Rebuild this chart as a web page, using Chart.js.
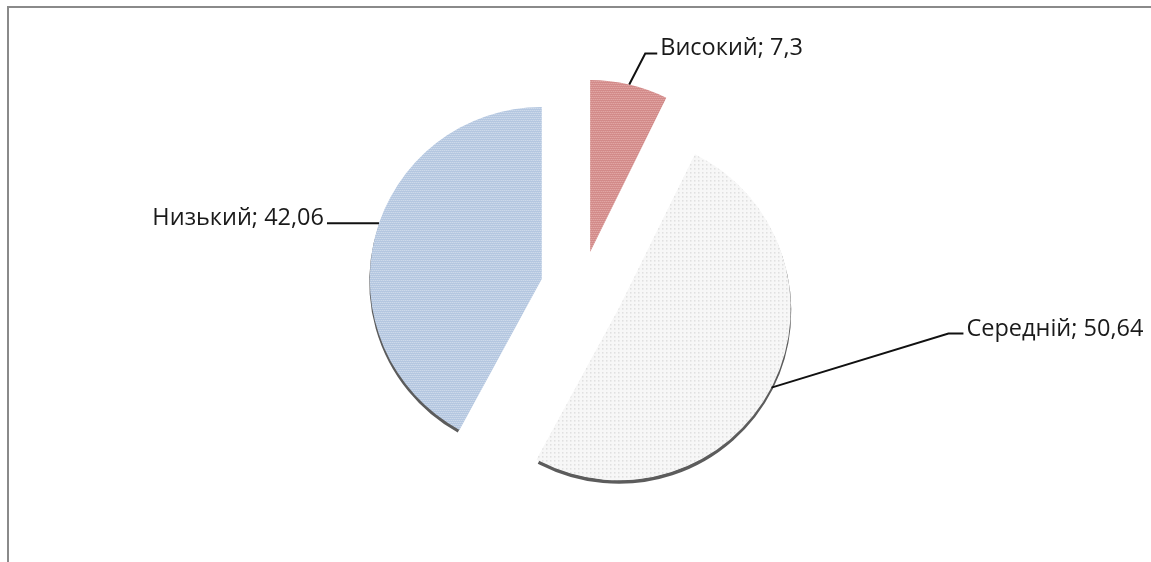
<!DOCTYPE html>
<html lang="uk">
<head>
<meta charset="utf-8">
<title>Рівні</title>
<script src="https://cdn.jsdelivr.net/npm/chart.js@4.4.1/dist/chart.umd.min.js"></script>
<style>
  html, body { margin: 0; padding: 0; background: #fff; }
  #wrap { position: relative; width: 1151px; height: 562px; }
  #frame {
    position: absolute; left: 7px; top: 6px; right: 0; bottom: 0;
    border-top: 2px solid #8a8a8a; border-left: 2px solid #8a8a8a;
    pointer-events: none;
  }
</style>
</head>
<body>
<div id="wrap">
  <canvas id="grafico"></canvas>
  <div id="frame"></div>
</div>
<script>
// dati del grafico
const categorie = ['Високий', 'Середній', 'Низький'];
const valori = [7.3, 50.64, 42.06];

// layout: quanto ogni fetta è staccata dal centro (px) e dove va l'etichetta
const stacco = [38, 42, 41];
const etichette = [
  { frac: 0.5, dx: 16, dy: -31, run: 12, side: 'right' },   // Високий
  { frac: 0.5, dx: 177, dy: -54, run: 15, side: 'right' },  // Середній
  { frac: 0.53, dx: 0, dy: 0, run: 52, side: 'left' }       // Низький
];

// piccoli pattern per imitare i riempimenti di Excel
function pattern(base, tinta, tipo) {
  const c = document.createElement('canvas');
  c.width = 4; c.height = 4;
  const g = c.getContext('2d');
  g.fillStyle = base;
  g.fillRect(0, 0, 4, 4);
  g.fillStyle = tinta;
  if (tipo === 'dots') {
    g.fillRect(1, 1, 1, 1);
  } else {
    for (let i = 0; i < 4; i++) g.fillRect(i, (i * 2) % 4, 1, 1);
  }
  return g.createPattern(c, 'repeat');
}

const colori = [
  pattern('#d28a89', '#e8b2b0', 'hatch'),
  pattern('#f7f7f7', '#c2c2c2', 'dots'),
  pattern('#b3c6e0', '#dce5f1', 'hatch')
];

// le fette vengono solo traslate, senza l'ingrandimento che fa Chart.js con "offset"
// + un bordino scuro sotto l'arco per l'effetto 3D
const drawOriginale = Chart.ArcElement.prototype.draw;
Chart.ArcElement.prototype.draw = function (ctx) {
  const opts = this.options;
  const sposta = opts.offset || 0;
  const meta = (this.startAngle + this.endAngle) / 2;
  ctx.save();
  ctx.translate(Math.cos(meta) * sposta, Math.sin(meta) * sposta);
  ctx.beginPath();
  ctx.arc(this.x, this.y + 3, this.outerRadius - 1.5, this.startAngle + 0.01, this.endAngle - 0.01);
  ctx.lineWidth = 4;
  ctx.strokeStyle = '#5c5c5c';
  ctx.stroke();
  this.options = Object.assign({}, opts, { offset: 0 });
  drawOriginale.call(this, ctx);
  this.options = opts;
  ctx.restore();
};

const pluginEtichette = {
  id: 'etichette',
  afterDatasetsDraw(chart) {
    const { ctx } = chart;
    const arcs = chart.getDatasetMeta(0).data;
    ctx.save();
    ctx.font = '23.5px "Open Sans"';
    ctx.fillStyle = '#1a1a1a';
    ctx.strokeStyle = '#111';
    ctx.lineWidth = 2;
    arcs.forEach((arc, i) => {
      const { x, y, startAngle, endAngle, outerRadius } = arc.getProps(['x', 'y', 'startAngle', 'endAngle', 'outerRadius'], true);
      const l = etichette[i];
      const meta = (startAngle + endAngle) / 2;
      const punto = startAngle + (endAngle - startAngle) * l.frac;
      // centro della fetta staccata, poi il punto sull'arco
      const cx = x + Math.cos(meta) * stacco[i];
      const cy = y + Math.sin(meta) * stacco[i];
      const ax = cx + Math.cos(punto) * outerRadius;
      const ay = cy + Math.sin(punto) * outerRadius;
      const ex = ax + l.dx, ey = ay + l.dy;
      const fx = l.side === 'right' ? ex + l.run : ex - l.run;
      ctx.beginPath();
      ctx.moveTo(ax, ay);
      ctx.lineTo(ex, ey);
      ctx.lineTo(fx, ey);
      ctx.stroke();
      const testo = categorie[i] + '; ' + valori[i].toString().replace('.', ',');
      ctx.textBaseline = 'alphabetic';
      ctx.textAlign = l.side === 'right' ? 'left' : 'right';
      ctx.fillText(testo, l.side === 'right' ? fx + 3 : fx - 3, ey + 2);
    });
    ctx.restore();
  }
};

new Chart(document.getElementById('grafico'), {
  type: 'pie',
  data: {
    labels: categorie,
    datasets: [{
      data: valori,
      backgroundColor: colori,
      borderWidth: 0,
      offset: stacco,
      radius: 172
    }]
  },
  options: {
    responsive: true,
    maintainAspectRatio: false,
    animation: false,
    events: [],
    layout: { padding: { left: 12, right: 0, top: 16, bottom: 0 } },
    plugins: {
      legend: { display: false },
      tooltip: { enabled: false }
    }
  },
  plugins: [pluginEtichette]
});
</script>
</body>
</html>
